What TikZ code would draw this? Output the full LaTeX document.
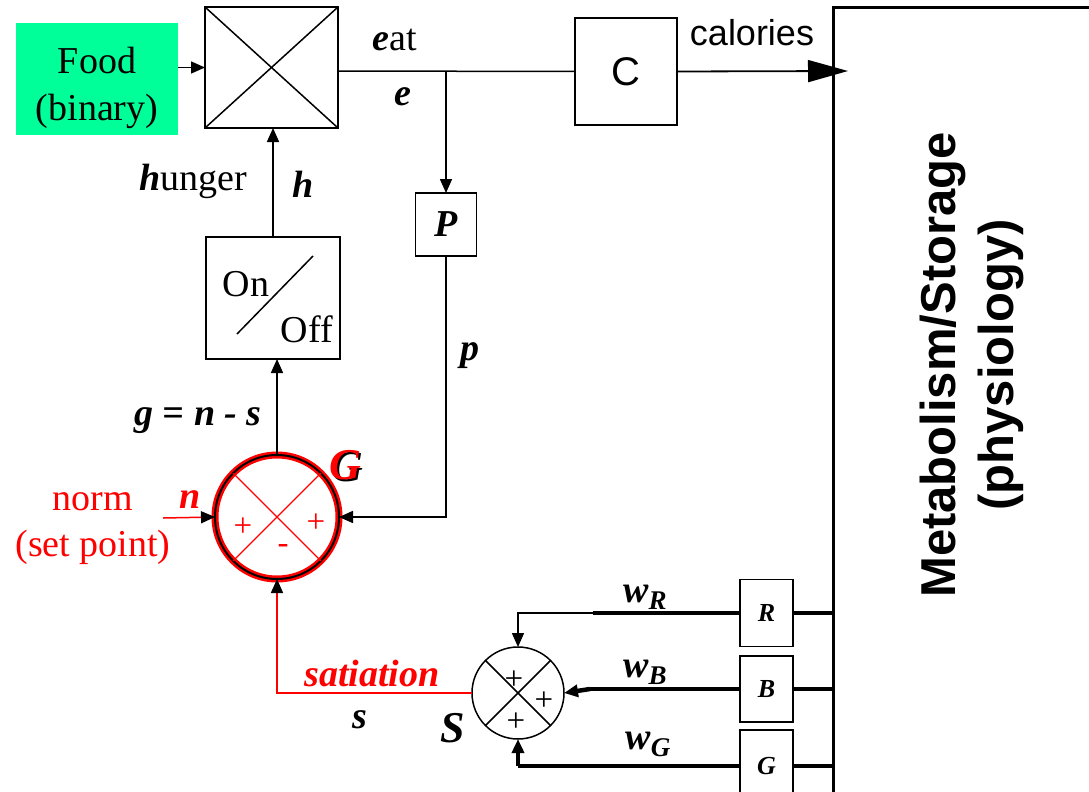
\documentclass[tikz,border=0pt]{standalone}
\usepackage{fontspec}
\setmainfont{Liberation Serif}
\setsansfont{Liberation Sans}
\usetikzlibrary{arrows.meta,positioning,shapes}
\definecolor{foodgreen}{RGB}{0,255,153}
\newcommand{\bi}[1]{\textbf{\textit{#1}}}
\newcommand{\fsz}[2]{\fontsize{#1}{#2}\selectfont}
\newcommand{\wsub}[1]{\bi{w}\raisebox{-7pt}{\fsz{27}{30}\bi{#1}}}

\begin{document}
\begin{tikzpicture}[x=1pt,y=-1pt,
  blk/.style={draw,line width=1.5pt,inner sep=0pt,outer sep=0pt},
  arr/.style={line width=1.5pt,-{Triangle[length=14pt,width=12pt]}},
  wire/.style={line width=4.5pt},
  lbl/.style={inner sep=0pt,font=\fsz{38}{46}},
  plus/.style={inner sep=0pt,font=\fsz{33}{36}}]
\useasboundingbox (0,0) rectangle (1089,792);
\clip (0,0) rectangle (1089,792);

% Blocks
\node[fill=foodgreen,minimum width=162pt,minimum height=112pt] (food) at (97,79) {};
\node[inner sep=0pt,align=center,font=\fsz{38}{47}] (foodTxt) at (97,88) {Food\\(binary)};
\node[blk,minimum width=133pt,minimum height=121pt] (mult) at (271.5,67.5) {};
\node[blk,minimum width=102pt,minimum height=107pt,font=\sffamily\fsz{40}{44}] (C) at (626,71.5) {C};
\node[blk,minimum width=134pt,minimum height=122pt] (onoff) at (273,298) {};
\node[blk,minimum width=61pt,minimum height=63pt,font=\fsz{38}{40}] (P) at (446,224.5) {\bi{P}};
\node[blk,minimum width=53pt,minimum height=67pt,font=\fsz{26}{30}] (R) at (766.5,613) {\bi{R}};
\node[blk,minimum width=53pt,minimum height=66pt,font=\fsz{26}{30}] (B) at (766.5,689) {\bi{B}};
\node[blk,minimum width=53pt,minimum height=72pt,font=\fsz{26}{30}] (Gb) at (766.5,766) {\bi{G}};
\node[draw,line width=3pt,inner sep=0pt,outer sep=0pt,anchor=north west,minimum width=320pt,minimum height=820pt] (meta) at (833,8) {};
\node[rotate=90,align=center,inner sep=0pt,font=\sffamily\bfseries\fsz{49}{58}] (metaTxt) at (972,365) {Metabolism/Storage\\(physiology)};

% Summing junctions
\node[circle,draw=red,line width=7pt,minimum size=124pt,inner sep=0pt,outer sep=0pt] (gsum) at (277,517) {};
\draw[line width=2pt] (gsum.center) circle (62pt);
\draw[red,line width=1.2pt] (gsum.45) -- (gsum.225) (gsum.135) -- (gsum.315);
\node[circle,draw,line width=1.5pt,minimum size=92pt,inner sep=0pt,outer sep=0pt] (S) at (518,693) {};
\draw[line width=1.5pt] (S.45) -- (S.225) (S.135) -- (S.315);

% Inner marks
\draw[line width=1.5pt] (mult.north west) -- (mult.south east) (mult.north east) -- (mult.south west);
\draw[line width=1.5pt] (237,334) -- (313,256);
\node[lbl] (on) at (246,284) {On};
\node[lbl] (off) at (307,329) {Off};
\node[plus,red] (gp1) at (243,527) {+};
\node[plus,red] (gp2) at (316,523) {+};
\node[plus,red] (gm) at (283,549) {-};
\node[plus] (sp1) at (514,680) {+};
\node[plus] (sp2) at (544,701) {+};
\node[plus] (sp3) at (516,722) {+};

% Coordinates
\coordinate (jE) at (446,71);
\coordinate (calIn) at (848,71);
\coordinate (nIn) at (163,518);
\coordinate (wRa) at (593,613);
\coordinate (wBa) at (590,689);

% Connectors
\draw[arr] (food.east |- mult.west) -- (mult.west);
\draw[line width=1.5pt] (mult.east |- jE) -- (C.west);
\draw[arr] (jE) -- (P.north);
\draw[line width=1.8pt,-{Triangle[length=40pt,width=22pt]}] (C.east) -- (calIn);
\draw[arr] (onoff.north) -- (onoff.north |- mult.south);
\draw[arr] (gsum.north) -- (gsum.north |- onoff.south);
\draw[arr] (P.south) -- (P.south |- gsum.east) -- (gsum.east);
\draw[red,line width=1.5pt,-{Triangle[length=14pt,width=12pt,color=black]}] (nIn) -- (gsum.west);
\draw[red,line width=1.5pt,-{Triangle[length=14pt,width=12pt,color=black]}] (S.west) -- (S.west -| gsum.south) -- (gsum.south);
\draw[wire] (R.east) -- (R.east -| meta.west);
\draw[wire] (B.east) -- (B.east -| meta.west);
\draw[wire] (Gb.east) -- (Gb.east -| meta.west);
\draw[wire] (R.west) -- (wRa);
\draw[arr] (wRa) -| (S.north);
\draw[wire] (B.west) -- (wBa);
\draw[wire,-{Triangle[length=14pt,width=12pt]}] (wBa) -- (S.east);
\draw[wire] (Gb.west) -- (Gb.west -| S.south);
\draw[wire,-{Triangle[length=14pt,width=12pt]}] (Gb.west -| S.south) -- (S.south);

% Labels
\node[lbl] (eat) at (395,40) {\bi{e}at};
\node[lbl] (e) at (403,97) {\bi{e}};
\node[inner sep=0pt,font=\sffamily\fsz{36}{40}] (cal) at (752,33) {calories};
\node[lbl] (hunger) at (193,181) {\bi{h}unger};
\node[lbl] (h) at (303,184) {\bi{h}};
\node[lbl] (geq) at (198,421) {\bi{g = n - s}};
\node[lbl,font=\fsz{44}{48}] (Gsh) at (347,467) {\bi{G}};
\node[lbl,font=\fsz{44}{48},red] (G) at (345,465) {\bi{G}};
\node[lbl] (p) at (470,356) {\bi{p}};
\node[lbl,red] (n) at (190,500) {\bi{n}};
\node[lbl,red,align=center] (norm) at (93,529) {norm\\(set point)};
\node[lbl,red] (sat) at (372,674) {\bi{satiation}};
\node[lbl] (s) at (360,720) {\bi{s}};
\node[lbl,font=\fsz{44}{48}] (Slbl) at (453,728) {\bi{S}};
\node[lbl] (wR) at (645,597) {\wsub{R}};
\node[lbl] (wB) at (645,672) {\wsub{B}};
\node[lbl] (wG) at (648,744) {\wsub{G}};
\end{tikzpicture}
\end{document}
